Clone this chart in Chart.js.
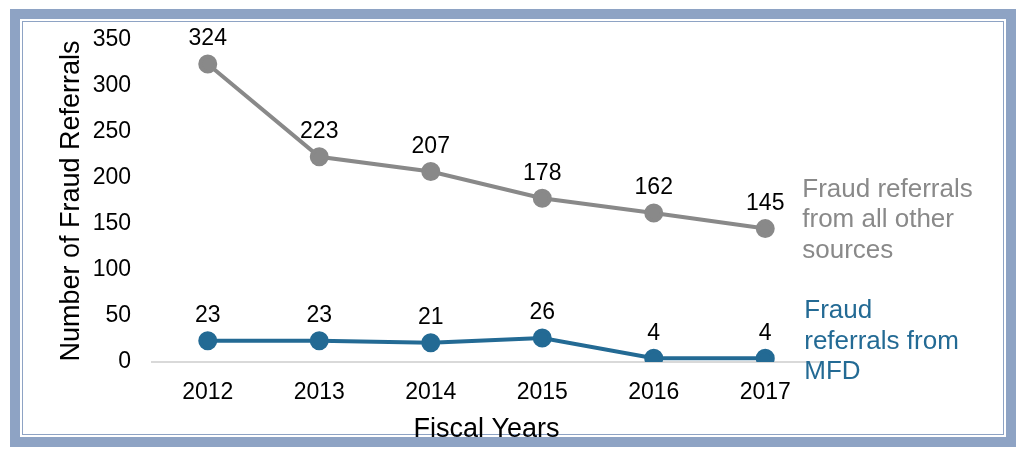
<!DOCTYPE html>
<html>
<head>
<meta charset="utf-8">
<script src="https://cdn.jsdelivr.net/npm/chart.js@4/dist/chart.umd.min.js"></script>
<style>
  body { margin: 0; background: #fff; }
  .frame {
    position: absolute; left: 10px; top: 9px; width: 986px; height: 418px;
    background: #8ea3c4; padding: 10px;
  }
  .gap { background: #fff; padding: 2px; height: 414px; }
  .inner { border: 1px solid #8ea3c4; height: 412px; }
  #chart { position: absolute; left: 0; top: 0; }
</style>
</head>
<body>
<div class="frame"><div class="gap"><div class="inner"></div></div></div>
<canvas id="chart" width="1019" height="449"></canvas>
<script>
const years = ["2012", "2013", "2014", "2015", "2016", "2017"];
const otherSources = [324, 223, 207, 178, 162, 145];
const mfd = [23, 23, 21, 26, 4, 4];
const otherLabel = ["Fraud referrals", "from all other", "sources"];
const mfdLabel = ["Fraud", "referrals from", "MFD"];

const GRAY = "#898989";
const BLUE = "#236a94";
const FONT = "'Liberation Sans', Arial, sans-serif";

// value labels above points + series names at the right end
const labelPlugin = {
  id: "labels",
  afterDatasetsDraw(chart) {
    const ctx = chart.ctx;
    ctx.save();
    ctx.font = "23px " + FONT;
    ctx.fillStyle = "#000";
    ctx.textAlign = "center";
    ctx.textBaseline = "middle";
    chart.data.datasets.forEach((ds, i) => {
      chart.getDatasetMeta(i).data.forEach((pt, j) => {
        ctx.fillText(ds.data[j], pt.x, pt.y - 25);
      });
    });
    ctx.font = "26px " + FONT;
    ctx.textAlign = "left";
    chart.data.datasets.forEach((ds, i) => {
      const meta = chart.getDatasetMeta(i);
      const last = meta.data[meta.data.length - 1];
      ctx.fillStyle = ds.borderColor;
      const startY = i === 0 ? last.y - 39 : last.y - 47;
      const startX = i === 0 ? last.x + 37 : last.x + 39;
      ds.nameLines.forEach((line, k) => {
        ctx.fillText(line, startX, startY + k * 30.5);
      });
    });
    ctx.restore();
  },
};

new Chart(document.getElementById("chart"), {
  type: "line",
  data: {
    labels: years,
    datasets: [
      {
        label: "Fraud referrals from all other sources",
        nameLines: otherLabel,
        data: otherSources,
        borderColor: GRAY,
        backgroundColor: GRAY,
        borderWidth: 4,
        pointRadius: 7.5,
        pointHoverRadius: 7.5,
        tension: 0,
      },
      {
        label: "Fraud referrals from MFD",
        nameLines: mfdLabel,
        data: mfd,
        borderColor: BLUE,
        backgroundColor: BLUE,
        borderWidth: 4,
        pointRadius: 7.5,
        pointHoverRadius: 7.5,
        tension: 0,
      },
    ],
  },
  options: {
    responsive: false,
    animation: false,
    layout: { padding: { left: 55, right: 198, top: 40, bottom: 3 } },
    plugins: {
      legend: { display: false },
      tooltip: { enabled: false },
    },
    scales: {
      x: {
        offset: true,
        afterFit: (scale) => { scale.height = 84; },
        grid: { display: false, drawTicks: false },
        border: { display: true, color: "#d9d9d9", width: 2 },
        ticks: { color: "#000", font: { family: FONT, size: 23 }, padding: 17 },
        title: {
          display: true,
          text: "Fiscal Years",
          color: "#000",
          font: { family: FONT, size: 27 },
          padding: 0,
        },
      },
      y: {
        min: 0,
        max: 350,
        afterFit: (scale) => { scale.width = 97; },
        grid: { display: false, drawTicks: false },
        border: { display: false },
        ticks: { stepSize: 50, color: "#000", font: { family: FONT, size: 23 }, padding: 21 },
        title: {
          display: true,
          text: "Number of Fraud Referrals",
          color: "#000",
          font: { family: FONT, size: 27 },
          padding: 0,
        },
      },
    },
  },
  plugins: [labelPlugin],
});
</script>
</body>
</html>
